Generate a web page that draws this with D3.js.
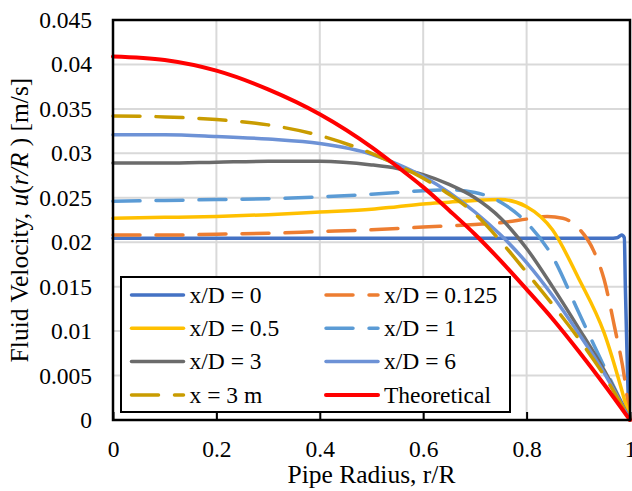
<!DOCTYPE html>
<html>
<head>
<meta charset="utf-8">
<script src="https://cdn.jsdelivr.net/npm/d3@7"></script>
<style>
  body { margin: 0; background: #fff; }
  svg { display: block; }
  svg text { font-family: "Liberation Serif", "Times New Roman", serif; fill: #000; }
</style>
</head>
<body>
<svg id="chart" width="632" height="491"></svg>
<script>
// radius positions (r/R) and velocities, m/s
var rDev = [0, 0.1, 0.2, 0.3, 0.4, 0.5, 0.55, 0.6, 0.65, 0.7, 0.75, 0.8, 0.85, 0.9, 0.95, 1];

var xd0 = [[0, 0.02044], [0.3, 0.02044], [0.6, 0.02044], [0.9, 0.02044], [0.96, 0.02044], [0.975, 0.0205],
           [0.984, 0.0208], [0.989, 0.0205], [0.991, 0.015], [0.994, 0.008], [0.997, 0.002], [1, 0]];
var xd0125 = [[0, 0.0208], [0.1, 0.0208], [0.2, 0.0209], [0.3, 0.0210], [0.4, 0.0212], [0.5, 0.0214],
              [0.6, 0.0217], [0.7, 0.0220], [0.75, 0.0222], [0.8, 0.0226], [0.84, 0.0229], [0.87, 0.0227],
              [0.9, 0.0216], [0.93, 0.0190], [0.95, 0.0158], [0.97, 0.0105], [0.99, 0.0045], [1, 0]];
var xd05 = [0.0227, 0.0228, 0.0229, 0.0231, 0.0234, 0.0237, 0.0240, 0.0243, 0.0245, 0.0247, 0.0248, 0.0240, 0.0214, 0.0160, 0.0098, 0];
var xd1 = [0.0246, 0.0247, 0.0248, 0.0249, 0.0251, 0.0254, 0.0256, 0.0258, 0.0259, 0.0256, 0.0245, 0.0222, 0.0184, 0.0122, 0.0060, 0];
var xd3 = [0.0289, 0.0289, 0.0290, 0.0291, 0.0291, 0.0287, 0.0283, 0.0276, 0.0265, 0.0250, 0.0227, 0.0193, 0.0150, 0.0104, 0.0056, 0];
var xd6 = [0.0321, 0.0321, 0.0319, 0.0316, 0.0311, 0.0299, 0.0288, 0.0274, 0.0256, 0.0234, 0.0208, 0.0177, 0.0140, 0.0098, 0.0053, 0];
var x3m = [0.0342, 0.0341, 0.0338, 0.0332, 0.0320, 0.0300, 0.0287, 0.0272, 0.0254, 0.0232, 0.0201, 0.0166, 0.0130, 0.0092, 0.0050, 0];
var theory = [0.0409, 0.0405, 0.0393, 0.0372, 0.0344, 0.0307, 0.0285, 0.0262, 0.0236, 0.0209, 0.0179, 0.0147, 0.0114, 0.0078, 0.0040, 0];

var seriesNames = ["x/D = 0", "x/D = 0.125", "x/D = 0.5", "x/D = 1", "x/D = 3", "x/D = 6", "x = 3 m", "Theoretical"];
var seriesColors = ["#4472C4", "#ED7D31", "#FFC000", "#5B9BD5", "#6B6B6B", "#6D92D6", "#C99C00", "#FF0000"];
var seriesDashed = [false, true, false, true, false, false, true, false];

var xTicks = [0, 0.2, 0.4, 0.6, 0.8, 1];
var xTickLabels = ["0", "0.2", "0.4", "0.6", "0.8", "1"];
var yTicks = [0, 0.005, 0.01, 0.015, 0.02, 0.025, 0.03, 0.035, 0.04, 0.045];
var yTickLabels = ["0", "0.005", "0.01", "0.015", "0.02", "0.025", "0.03", "0.035", "0.04", "0.045"];

function pair(vals) {
	return vals.map(function(v, i) { return [rDev[i], v]; });
}
var allSeries = [xd0, xd0125, pair(xd05), pair(xd1), pair(xd3), pair(xd6), pair(x3m), pair(theory)];

var svg = d3.select("#chart");
var plotL = 113, plotR = 630, plotT = 20, plotB = 420;

var x = d3.scaleLinear().domain([0, 1]).range([plotL, plotR]);
var y = d3.scaleLinear().domain([0, 0.045]).range([plotB, plotT]);

// gridlines
svg.append("g").selectAll("line").data(yTicks.slice(1)).join("line")
	.attr("x1", plotL).attr("x2", plotR)
	.attr("y1", function(d) { return y(d); }).attr("y2", function(d) { return y(d); })
	.attr("stroke", "#d9d9d9").attr("stroke-width", 2);
svg.append("g").selectAll("line").data(xTicks.slice(1, -1)).join("line")
	.attr("x1", function(d) { return x(d); }).attr("x2", function(d) { return x(d); })
	.attr("y1", plotT).attr("y2", plotB)
	.attr("stroke", "#d9d9d9").attr("stroke-width", 2);

// series
var line = d3.line()
	.x(function(d) { return x(d[0]); })
	.y(function(d) { return y(d[1]); })
	.curve(d3.curveMonotoneX);

svg.append("g").selectAll("path").data(allSeries).join("path")
	.attr("d", line)
	.attr("fill", "none")
	.attr("stroke", function(d, i) { return seriesColors[i]; })
	.attr("stroke-width", function(d, i) { return i == 7 ? 4 : 3.5; })
	.attr("stroke-linecap", "round")
	.attr("stroke-linejoin", "round")
	.attr("stroke-dasharray", function(d, i) { return seriesDashed[i] ? "27,16" : null; });

// legend
var legend = svg.append("g");
legend.append("rect")
	.attr("x", 121).attr("y", 277).attr("width", 389).attr("height", 135)
	.attr("fill", "#fff").attr("stroke", "#000").attr("stroke-width", 2);

var items = legend.selectAll("g.item").data(seriesNames).join("g")
	.attr("class", "item")
	.attr("transform", function(d, i) {
		var col = i % 2, row = Math.floor(i / 2);
		return "translate(" + (131.5 + col * 194.5) + "," + (295 + row * 33.3) + ")";
	});
items.append("line")
	.attr("x1", 0).attr("x2", 52)
	.attr("stroke", function(d, i) { return seriesColors[i]; })
	.attr("stroke-width", function(d, i) { return i == 7 ? 4 : 3.5; })
	.attr("stroke-linecap", "round")
	.attr("stroke-dasharray", function(d, i) { return seriesDashed[i] ? "27,16" : null; });
items.append("text")
	.attr("x", 58).attr("dy", "0.33em")
	.attr("font-size", "23.5px")
	.text(function(d) { return d; });

// x axis with inside ticks
var xAxis = d3.axisBottom(x).tickValues(xTicks)
	.tickFormat(function(d, i) { return xTickLabels[i]; })
	.tickSizeInner(-8).tickSizeOuter(0).tickPadding(20);
var gx = svg.append("g").attr("transform", "translate(0," + plotB + ")").call(xAxis);
gx.attr("font-family", null).attr("font-size", null);
gx.select(".domain").remove();
gx.selectAll("line").attr("stroke", "#000").attr("stroke-width", 2);
gx.selectAll("text").attr("font-size", "23.5px");

var yAxis = d3.axisLeft(y).tickValues(yTicks)
	.tickFormat(function(d, i) { return yTickLabels[i]; })
	.tickSize(0).tickPadding(21);
var gy = svg.append("g").attr("transform", "translate(" + plotL + ",0)").call(yAxis);
gy.attr("font-family", null).attr("font-size", null);
gy.select(".domain").remove();
gy.selectAll("text").attr("font-size", "23.5px");

// plot border
svg.append("rect")
	.attr("x", plotL).attr("y", plotT).attr("width", plotR - plotL).attr("height", plotB - plotT)
	.attr("fill", "none").attr("stroke", "#000").attr("stroke-width", 2.5);

// axis titles
svg.append("text")
	.attr("x", (plotL + plotR) / 2).attr("y", 483)
	.attr("text-anchor", "middle").attr("font-size", "25.5px")
	.text("Pipe Radius, r/R");

var yTitle = svg.append("text")
	.attr("transform", "translate(28," + ((plotT + plotB) / 2) + ") rotate(-90)")
	.attr("text-anchor", "middle").attr("font-size", "25.5px");
yTitle.append("tspan").text("Fluid Velocity, ");
yTitle.append("tspan").attr("font-style", "italic").text("u");
yTitle.append("tspan").text("(");
yTitle.append("tspan").attr("font-style", "italic").text("r/R");
yTitle.append("tspan").text(" ) [m/s]");
</script>
</body>
</html>
